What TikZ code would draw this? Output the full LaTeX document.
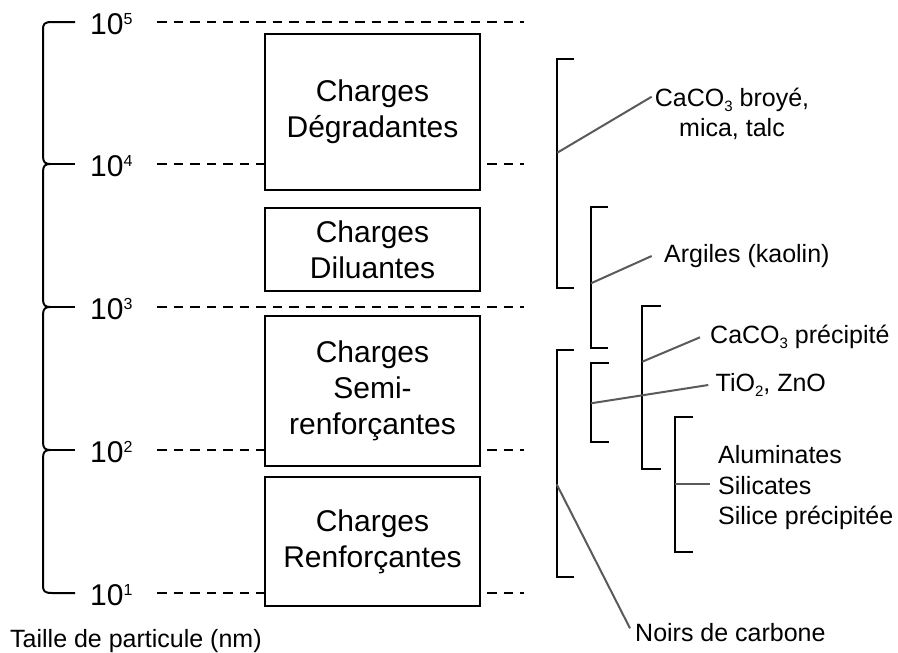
\documentclass[tikz,border=0pt]{standalone}
\usepackage{fontspec}
\setmainfont{Liberation Sans}
\definecolor{leadgray}{RGB}{90,90,90}
\newcommand\levsup[1]{\raisebox{10pt}{\fontsize{16}{16}\selectfont #1}}
\newcommand\chemsub[1]{\raisebox{-5pt}{\fontsize{15}{15}\selectfont #1}}
\begin{document}
\begin{tikzpicture}[x=1pt,y=-1pt,
  box/.style={draw, line width=1.5pt, fill=white, align=center, font=\fontsize{30}{36}\selectfont, inner sep=0pt, minimum width=215pt},
  lvl/.style={anchor=base west, font=\fontsize{30}{32}\selectfont, inner sep=0pt},
  lab/.style={anchor=base west, font=\fontsize{25}{30}\selectfont, inner sep=0pt},
  brk/.style={line width=2pt, black, line join=miter},
  lead/.style={line width=2pt, leadgray},
  dsh/.style={dash pattern=on 9.5pt off 7pt, line width=2pt}
]
\useasboundingbox (0,0) rectangle (898,653);

% level coordinates
\foreach \n/\y in {5/22,4/164,3/307,2/450,1/593}{
  \coordinate (ds\n) at (157,\y);
  \coordinate (de\n) at (524,\y);
  \node[lvl] (l\n) at (90,\y+12.5) {10\levsup{\n}};
}
\foreach \n in {5,4,3,2,1}{\draw[dsh] (ds\n) -- (de\n);}

% boxes
\node[box, minimum height=156pt] (deg) at (372.5,112) {Charges\\Dégradantes};
\node[box, minimum height=83pt] (dil) at (372.5,249.5) {Charges\\Diluantes};
\node[box, minimum height=150pt] (semi) at (372.5,391) {Charges\\Semi-\\renforçantes};
\node[box, minimum height=129pt] (ren) at (372.5,541.5) {Charges\\Renforçantes};

% left brace
\draw[brk, line join=round] (75,22) -- (52,22) .. controls (44,22) and (43,24) .. (43,30)
  -- (43,156) .. controls (43,162) and (45,164) .. (50,164)
  .. controls (45,164) and (43,166) .. (43,172)
  -- (43,299) .. controls (43,305) and (45,307) .. (50,307)
  .. controls (45,307) and (43,309) .. (43,315)
  -- (43,442) .. controls (43,448) and (45,450) .. (50,450)
  .. controls (45,450) and (43,452) .. (43,458)
  -- (43,585) .. controls (43,591) and (44,593) .. (52,593) -- (75,593);
\foreach \y in {164,307,450}{\draw[brk] (50,\y) -- (75,\y);}

\node[lab] (taille) at (10,647) {Taille de particule (nm)};

% right brackets
\draw[brk] (574.3,59.3) -- (557.3,59.3) -- (557.3,287.7) -- (574.3,287.7);
\draw[brk] (608,206.7) -- (591,206.7) -- (591,347.7) -- (608,347.7);
\draw[brk] (661,305.7) -- (642.3,305.7) -- (642.3,469) -- (661,469);
\draw[brk] (574,350) -- (556.7,350) -- (556.7,576.7) -- (574,576.7);
\draw[brk] (609,363.3) -- (591,363.3) -- (591,441.7) -- (609,441.7);
\draw[brk] (692.7,416.7) -- (675,416.7) -- (675,551.7) -- (692.7,551.7);

\coordinate (bA) at (557.3,152.7);
\coordinate (bB) at (591,283.3);
\coordinate (bC) at (642.3,361.7);
\coordinate (bD) at (556.7,484.3);
\coordinate (bE) at (591,403.3);
\coordinate (bF) at (675,484.3);

\coordinate (eA) at (651.7,96.7);
\coordinate (eB) at (651.7,256);
\coordinate (eC) at (700,337.3);
\coordinate (eD) at (630,628.3);
\coordinate (eE) at (708.3,385);
\coordinate (eF) at (710,484.3);

% labels
\node[font=\fontsize{25}{30}\selectfont, align=center, inner sep=0pt, anchor=center] (broye) at (732,114) {CaCO\chemsub{3} broyé,\\mica, talc};
\node[lab] (arg) at (664,262) {Argiles (kaolin)};
\node[lab] (prec) at (710,343) {CaCO\chemsub{3} précipité};
\node[lab] (tio) at (715.5,391.5) {TiO\chemsub{2}, ZnO};
\node[lab] (alu) at (718,463.5) {Aluminates};
\node[lab] (sil) at (718,494) {Silicates};
\node[lab] (sic) at (718,524.5) {Silice précipitée};
\node[lab] (noir) at (635,641) {Noirs de carbone};

% leaders
\draw[lead] (bA) -- (eA);
\draw[lead] (bB) -- (eB);
\draw[lead] (bC) -- (eC);
\draw[lead] (bD) -- (eD);
\draw[lead] (bE) -- (eE);
\draw[lead] (bF) -- (eF);
\end{tikzpicture}
\end{document}
